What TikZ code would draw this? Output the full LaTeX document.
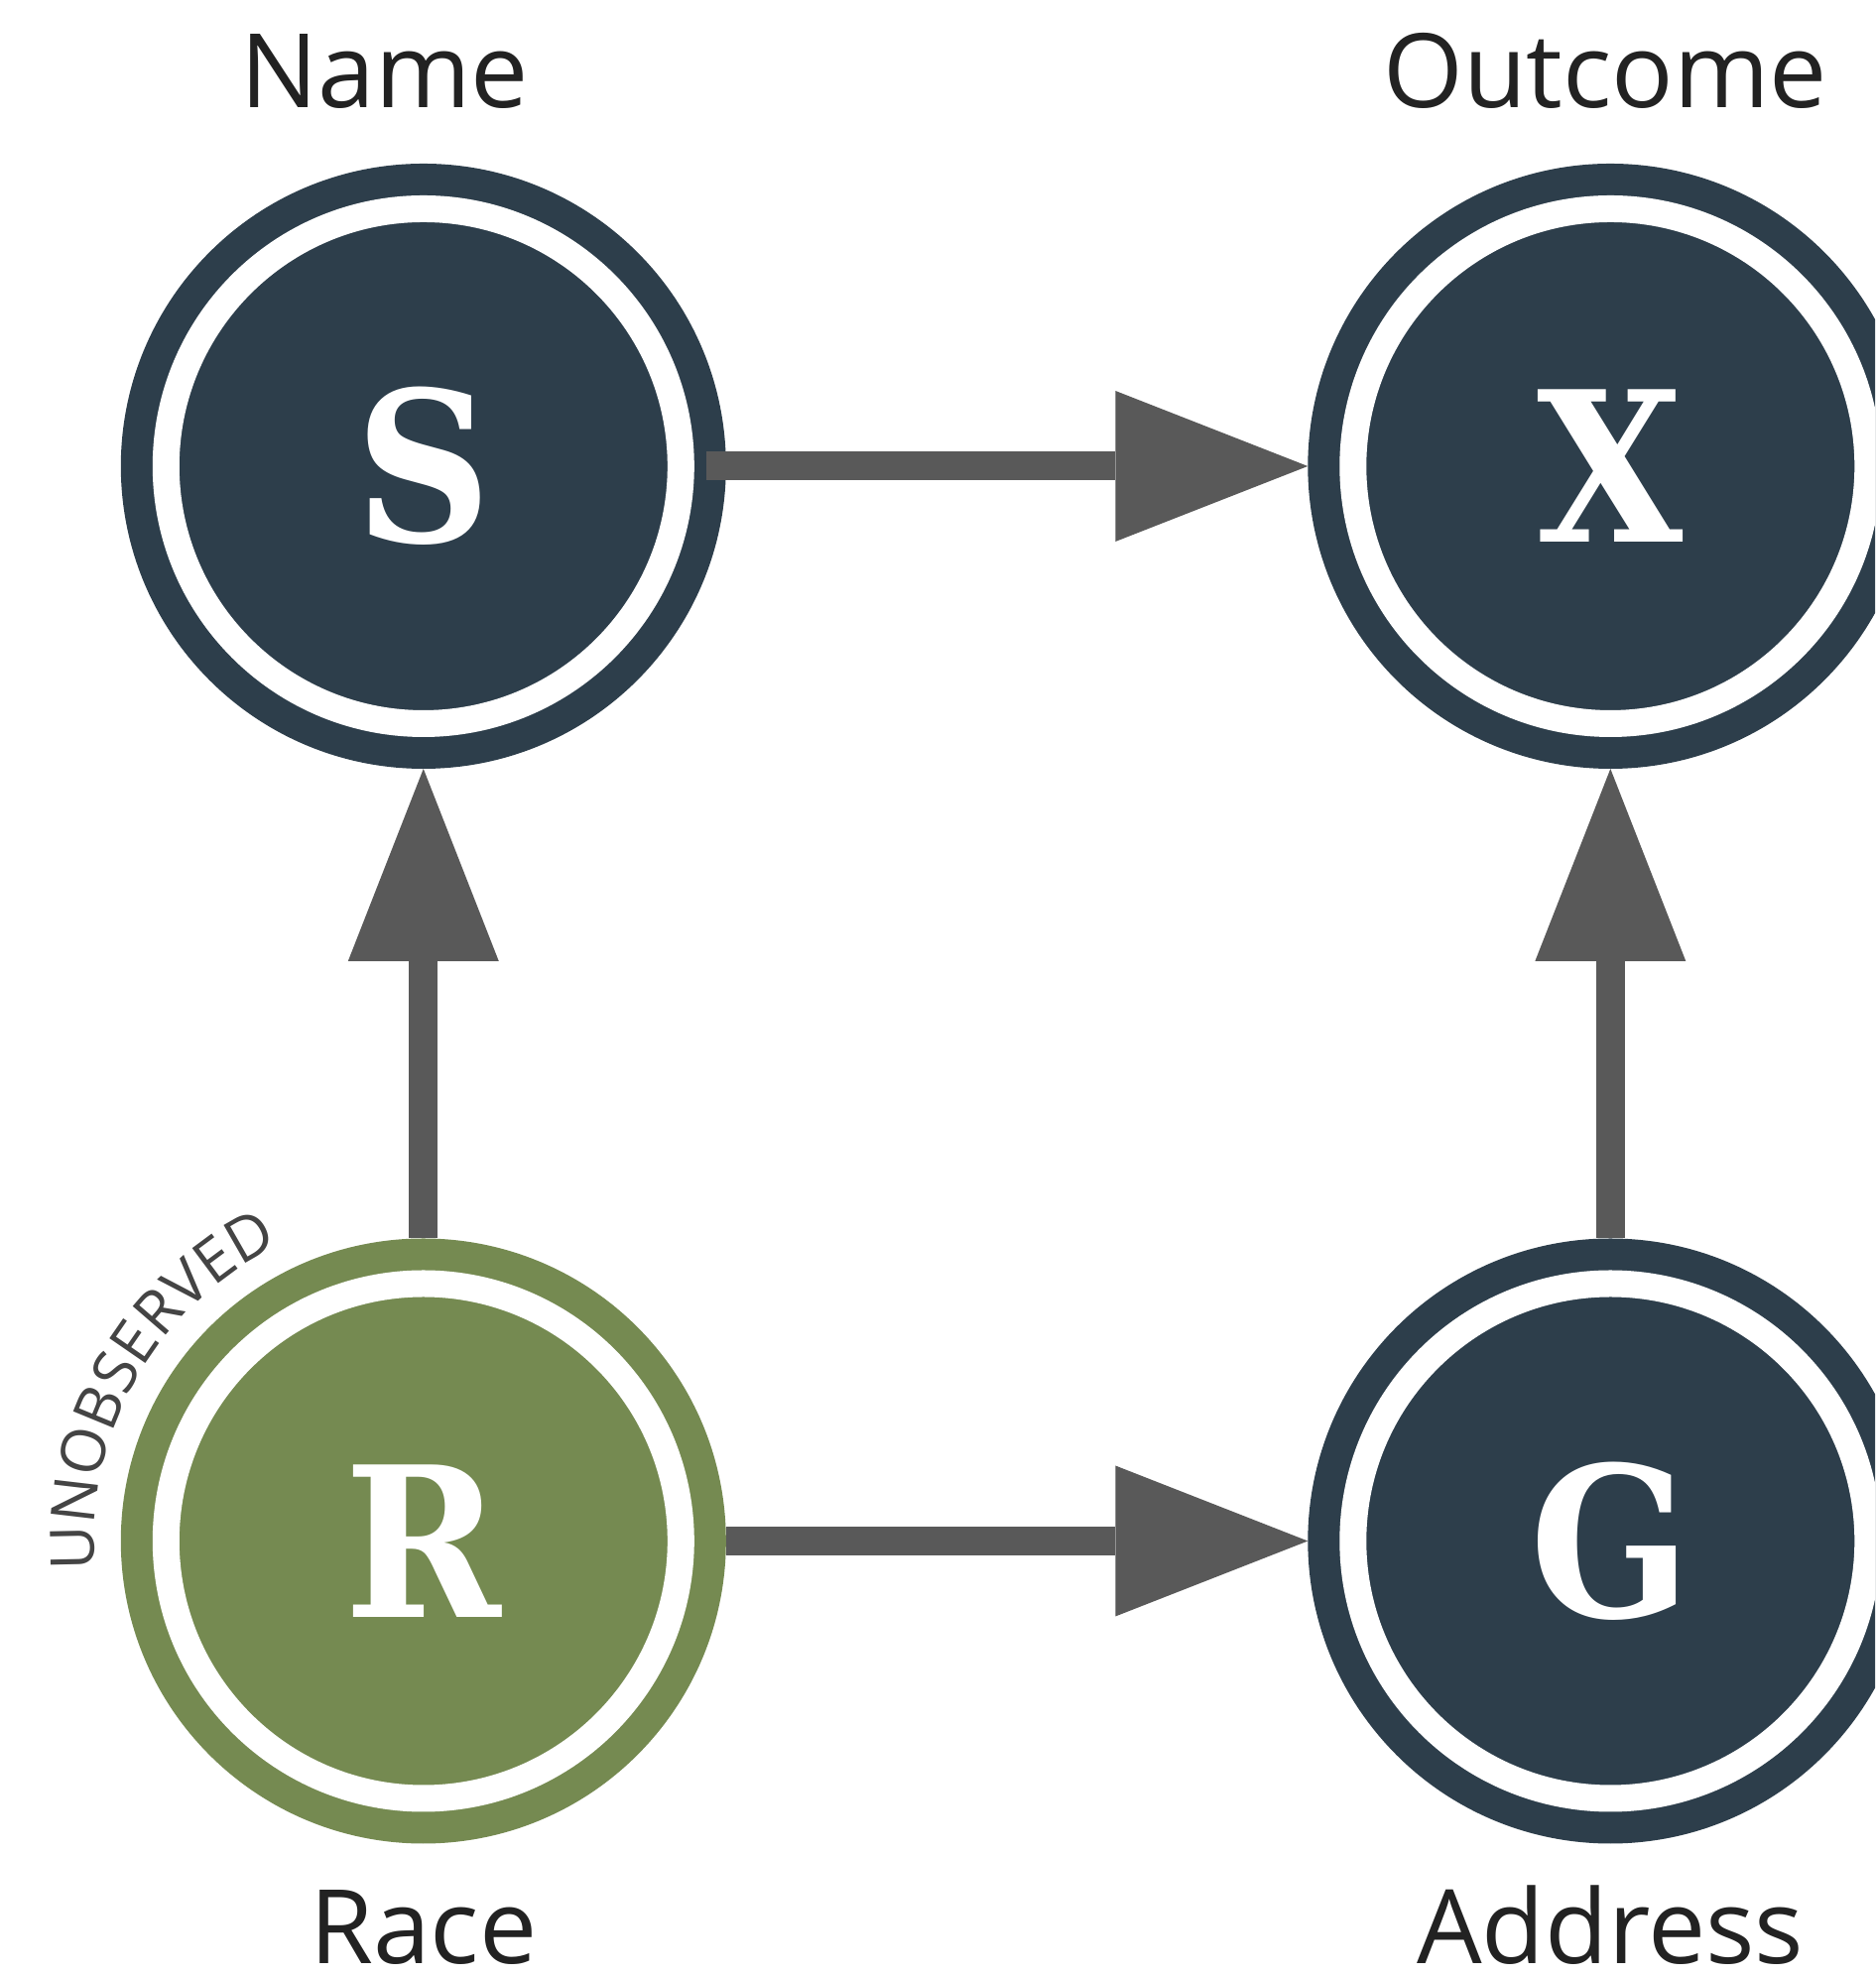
\documentclass[tikz,border=0pt]{standalone}
\usepackage{fontspec}
\setmainfont{Open Sans}
\newfontfamily\letterfont{DejaVu Serif}
\usetikzlibrary{positioning, arrows.meta, decorations.text}

\definecolor{navy}{HTML}{2D3E4B}
\definecolor{olive}{HTML}{758A51}
\definecolor{edgegray}{HTML}{595959}
\definecolor{labelgray}{HTML}{222222}
\definecolor{unobs}{HTML}{444444}

\newcommand{\unobsfont}{\fontsize{17.5}{17.5}\selectfont}

\tikzset{
	var/.style={circle, fill=#1, draw=white, line width=0.27cm, minimum size=5.19cm, inner sep=0pt, outer sep=0.455cm,
		preaction={draw=#1, line width=0.91cm}, text=white, font=\letterfont\bfseries\fontsize{60}{60}\selectfont},
	lbl/.style={inner sep=0pt, text=labelgray, font=\fontsize{29.5}{29.5}\selectfont},
	edge/.style={draw=edgegray, line width=0.29cm, -{Triangle[length=1.94cm, width=1.52cm, line width=0pt]}}
}

\begin{document}
\begin{tikzpicture}
	\useasboundingbox (0,0) rectangle (18.9,19.92);
	\clip (0,0) rectangle (18.9,19.92);
	
	\node[var=navy] (S) at (4.268,15.22) {\scalebox{0.9}[1]{S}};
	\node[var=navy, right=5.865cm of S] (X) {\scalebox{0.9}[1]{X}};
	\node[var=olive, below=4.735cm of S] (R) {\scalebox{0.9}[1]{R}};
	\node[var=navy, right=5.865cm of R] (G) {\scalebox{0.9}[1]{G}};
	
	\node[lbl, above=0.56cm of S, anchor=base, xshift=-0.39cm] (name) {Name};
	\node[lbl, above=0.56cm of X, anchor=base, xshift=-0.05cm] (outcome) {Outcome};
	\node[lbl, below=1.21cm of R, anchor=base] (race) {Race};
	\node[lbl, below=1.21cm of G, anchor=base] (address) {Address};
	
	% latent variable tag
	\path[decorate, decoration={text along path, text={|\unobsfont|UNOBSERVED}, text color=unobs, text align=center}]
		([shift={(200:3.32)}]R.center) arc[start angle=200, end angle=101, radius=3.32];
	
	\draw[edge, shorten <=-0.2cm] (S) -- (X);
	\draw[edge] (R) -- (S);
	\draw[edge] (G) -- (X);
	\draw[edge] (R) -- (G);
\end{tikzpicture}
\end{document}
